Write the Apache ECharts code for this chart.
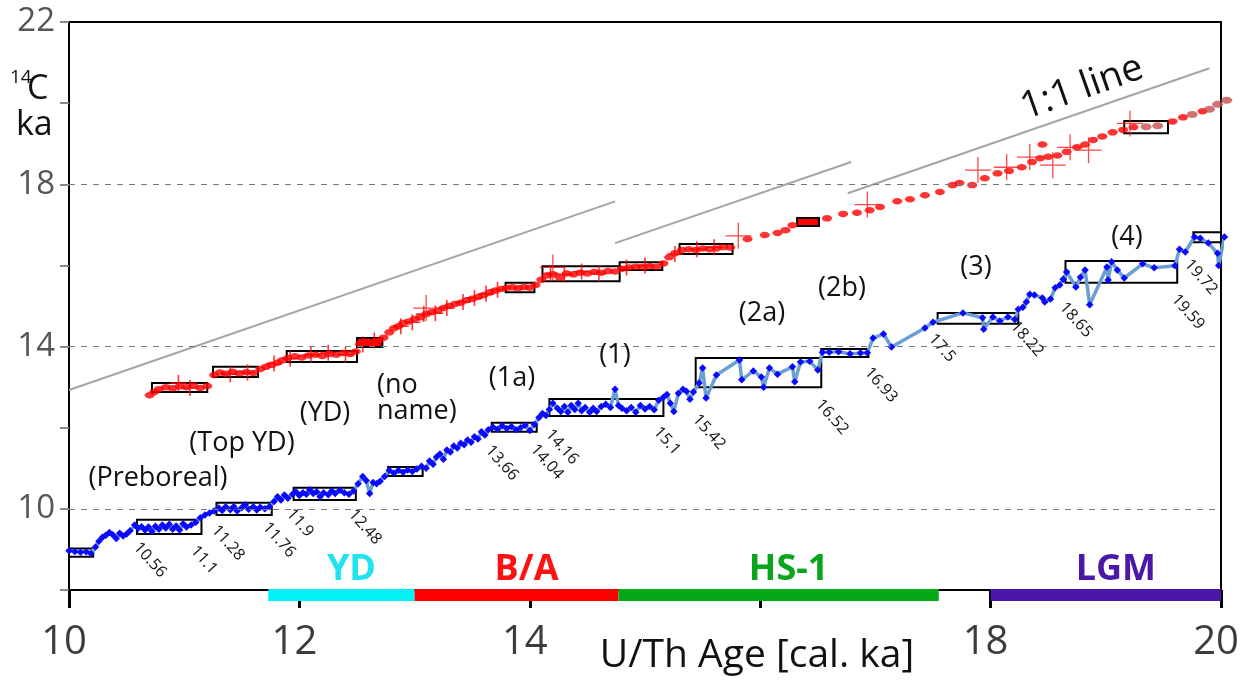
<!DOCTYPE html>
<html><head><meta charset="utf-8">
<script src="https://cdn.jsdelivr.net/npm/echarts@6/dist/echarts.min.js"></script>
<style>html,body{margin:0;padding:0;background:#fff}#c{width:1240px;height:687px}</style>
</head><body><div id="c"></div>
<script>
// ---------- DATA ----------
const xLabelValues = [10, 12, 14, 18, 20];
const yLabelValues = [10, 14, 18, 22];
const gridValues = [10, 14, 18];

const bluePoints = [
[10.00,8.97],[10.05,8.95],[10.10,8.93],[10.15,8.94],[10.19,8.90],[10.23,9.06],[10.26,9.20],[10.29,9.30],[10.32,9.35],[10.35,9.42],
[10.38,9.36],[10.41,9.27],[10.44,9.40],[10.47,9.33],[10.50,9.38],[10.53,9.46],[10.57,9.60],[10.60,9.52],[10.63,9.56],[10.66,9.48],
[10.69,9.55],[10.72,9.44],[10.75,9.57],[10.78,9.50],[10.81,9.60],[10.84,9.53],[10.87,9.62],[10.90,9.50],[10.93,9.58],[10.96,9.48],
[10.99,9.63],[11.02,9.55],[11.06,9.60],[11.10,9.67],[11.14,9.78],[11.18,9.85],[11.22,9.90],[11.26,9.95],[11.30,10.02],[11.33,9.96],
[11.36,10.05],[11.40,9.98],[11.43,10.06],[11.46,9.95],[11.50,10.03],[11.53,10.10],[11.56,9.99],[11.60,10.05],[11.63,9.97],[11.66,10.04],
[11.70,10.00],[11.74,10.06],[11.78,10.18],[11.81,10.30],[11.84,10.22],[11.87,10.34],[11.90,10.26],[11.94,10.36],[11.97,10.42],[12.00,10.33],
[12.03,10.40],[12.06,10.36],[12.09,10.47],[12.12,10.38],[12.15,10.42],[12.18,10.30],[12.21,10.40],[12.25,10.35],[12.28,10.44],[12.31,10.38],
[12.35,10.46],[12.39,10.40],[12.43,10.36],[12.47,10.44],[12.51,10.62],[12.55,10.80],[12.58,10.70],[12.61,10.38],[12.64,10.65],[12.67,10.62],
[12.70,10.68],[12.74,10.80],[12.78,10.95],[12.82,10.88],[12.86,10.95],[12.90,10.90],[12.94,10.96],[12.98,10.92],[13.02,10.98],[13.06,11.05],
[13.10,11.00],[13.13,11.18],[13.16,11.10],[13.19,11.28],[13.22,11.35],[13.25,11.22],[13.28,11.45],[13.31,11.40],[13.34,11.55],[13.37,11.50],
[13.40,11.62],[13.43,11.58],[13.46,11.70],[13.49,11.64],[13.52,11.78],[13.55,11.72],[13.58,11.90],[13.61,11.82],[13.64,11.95],[13.68,12.02],
[13.72,11.96],[13.76,12.05],[13.80,11.98],[13.84,12.03],[13.88,11.95],[13.92,12.00],[13.96,12.06],[14.00,11.93],[14.04,12.08],[14.08,12.25],
[14.11,12.35],[14.14,12.30],[14.17,12.45],[14.20,12.60],[14.24,12.48],[14.27,12.40],[14.30,12.52],[14.33,12.38],[14.36,12.55],[14.39,12.45],
[14.42,12.60],[14.45,12.42],[14.48,12.50],[14.52,12.38],[14.55,12.48],[14.58,12.40],[14.62,12.52],[14.66,12.58],[14.70,12.50],[14.74,12.95],
[14.77,12.55],[14.80,12.48],[14.84,12.42],[14.88,12.50],[14.92,12.38],[14.96,12.55],[15.00,12.46],[15.04,12.52],[15.08,12.44],[15.12,12.68],
[15.16,12.75],[15.19,12.82],[15.22,12.60],[15.25,12.40],[15.29,12.85],[15.33,12.95],[15.36,12.90],[15.39,12.70],[15.42,12.88],[15.47,13.10],
[15.50,13.47],[15.53,12.73],[15.62,13.30],[15.82,13.67],[15.84,13.18],[15.94,13.40],[16.01,13.25],[16.03,13.00],[16.08,13.47],[16.15,13.32],
[16.28,13.50],[16.30,13.13],[16.35,13.62],[16.43,13.64],[16.50,13.42],[16.54,13.86],[16.60,13.86],[16.68,13.87],[16.78,13.82],[16.87,13.84],
[16.93,13.85],[16.98,14.21],[17.07,14.31],[17.14,13.99],[17.43,14.46],[17.50,14.60],[17.76,14.83],[17.93,14.71],[17.94,14.43],[18.02,14.73],
[18.08,14.63],[18.15,14.73],[18.21,14.67],[18.24,14.92],[18.28,14.97],[18.31,15.10],[18.34,15.29],[18.38,15.27],[18.45,15.20],[18.47,15.10],
[18.52,15.17],[18.56,15.45],[18.60,15.52],[18.63,15.66],[18.66,15.84],[18.74,15.47],[18.78,15.71],[18.82,15.89],[18.86,15.03],[19.01,15.96],
[19.02,15.64],[19.05,16.09],[19.10,15.89],[19.16,15.69],[19.32,16.04],[19.42,15.94],[19.60,15.99],[19.64,16.40],[19.69,16.33],[19.77,16.70],
[19.82,16.67],[19.89,16.55],[19.97,16.30],[19.98,16.00],[20.03,16.70]
];

const redDots = [
[10.70,12.80],[10.74,12.88],[10.78,12.95],[10.84,13.00],[10.90,12.97],[10.96,13.02],[11.02,13.00],[11.08,13.04],[11.14,12.98],[11.20,13.03],
[11.26,13.30],[11.31,13.36],[11.36,13.33],[11.42,13.38],[11.48,13.34],[11.54,13.37],[11.60,13.35],[11.66,13.45],[11.71,13.50],[11.76,13.55],
[11.81,13.60],[11.85,13.66],[11.90,13.72],[11.96,13.76],[12.02,13.73],[12.08,13.78],[12.14,13.80],[12.20,13.77],[12.26,13.82],[12.32,13.80],
[12.38,13.84],[12.44,13.82],[12.49,13.88],[12.53,14.08],[12.58,14.12],[12.63,14.10],[12.68,14.14],[12.73,14.22],[12.78,14.35],[12.82,14.45],
[12.86,14.50],[12.90,14.58],[12.95,14.62],[13.00,14.68],[13.05,14.72],[13.10,14.80],[13.15,14.85],[13.20,14.88],[13.25,14.95],[13.30,15.00],
[13.35,15.05],[13.40,15.08],[13.45,15.14],[13.50,15.18],[13.55,15.22],[13.60,15.27],[13.65,15.33],[13.70,15.38],[13.75,15.42],[13.80,15.45],
[13.85,15.46],[13.90,15.44],[13.95,15.47],[14.00,15.45],[14.05,15.52],[14.10,15.65],[14.15,15.75],[14.20,15.78],[14.26,15.70],[14.32,15.80],
[14.38,15.78],[14.44,15.82],[14.50,15.80],[14.56,15.84],[14.62,15.82],[14.68,15.86],[14.74,15.85],[14.80,15.92],[14.86,15.95],[14.92,15.97],
[14.98,15.96],[15.04,15.98],[15.10,15.97],[15.16,16.05],[15.21,16.20],[15.26,16.30],[15.32,16.38],[15.38,16.40],[15.44,16.38],[15.50,16.42],
[15.56,16.40],[15.62,16.42],[15.68,16.45],[15.74,16.44],[15.89,16.65],[16.04,16.75],[16.15,16.80],[16.22,16.87],[16.28,16.99],[16.38,17.07],
[16.45,17.07],[16.58,17.16],[16.72,17.27],[16.84,17.30],[16.95,17.36],[17.04,17.44],[17.19,17.58],[17.30,17.63],[17.43,17.73],[17.56,17.81],
[17.67,17.98],[17.73,18.03],[17.84,17.98],[17.95,18.15],[18.06,18.27],[18.16,18.33],[18.27,18.42],[18.36,18.55],[18.43,18.64],[18.45,18.98],
[18.50,18.68],[18.58,18.71],[18.66,18.80],[18.75,18.91],[18.82,18.98],[18.89,19.09],[18.97,19.18],[19.06,19.28],[19.15,19.34],[19.24,19.41],
[19.58,19.55],[19.67,19.65],[19.84,19.80]
];
const redDotsLate = [
[19.35,19.42],[19.45,19.44],[19.75,19.72],[19.90,19.85],[19.97,19.97],[20.05,20.07]
];
const redCrossSmall = [
[10.95,13.10],[11.05,12.98],[11.40,13.32],[11.55,13.36],[11.78,13.58],[11.92,13.70],[12.10,13.80],[12.25,13.85],[12.40,13.80],[12.55,14.05],
[12.65,14.15],[12.88,14.50],[12.98,14.60],[13.08,14.80],[13.18,14.82],[13.28,14.95],[13.42,15.10],[13.52,15.20],[13.62,15.30],[13.72,15.40],
[14.18,15.80],[14.30,15.78],[14.45,15.85],[14.60,15.80],[14.84,15.95],[15.00,16.00],[15.26,16.28],[15.45,16.40],[15.60,16.45]
];
const redCrossLarge = [
[13.10,14.95],[14.20,15.95],[15.81,16.73],[16.93,17.50],[17.89,18.35],[18.14,18.42],[18.34,18.67],[18.54,18.47],[18.69,18.91],[18.85,18.84],[19.21,19.50]
];

// boxes: [x1, x2, y1, y2]
const blueBoxes = [
[9.83,10.21,8.82,9.02],[10.59,11.15,9.38,9.73],[11.28,11.76,9.85,10.15],[11.95,12.49,10.22,10.52],[12.77,13.07,10.81,11.03],
[13.67,14.06,11.90,12.12],[14.17,15.16,12.29,12.71],[15.44,16.53,13.00,13.72],[16.53,16.94,13.74,13.94],[17.54,18.24,14.56,14.83],
[18.65,19.62,15.57,16.11],[19.76,20.00,16.57,16.82]
];
const redBoxes = [
[10.72,11.20,12.88,13.10],[11.25,11.64,13.25,13.50],[11.89,12.50,13.62,13.89],[12.50,12.72,13.99,14.21],[13.79,14.04,15.34,15.57],
[14.11,14.78,15.61,15.98],[14.78,15.15,15.89,16.08],[15.30,15.76,16.28,16.53],[16.32,16.51,16.97,17.17],[19.16,19.54,19.26,19.56]
];
const redFilledBoxes = [3, 8];

const oneToOneSegments = [
[[10.00,12.93],[14.74,17.58]],
[[14.74,16.55],[16.79,18.55]],
[[16.76,17.78],[19.90,20.86]]
];

const periods = [
['YD',11.73,13.00],['B/A',13.00,14.77],['HS-1',14.77,17.55],['LGM',18.00,20.00]
];
const periodColors = ['#00f2f6','#ff0000','#04aa16','#4a16a8'];
const periodTextColors = ['#1fe3ee','#ff1111','#0aa51c','#4a17a6'];

const eventLabels = [
['(Preboreal)',158,478],['(Top YD)',242,443],['(YD)',325,413],['(1a)',512,378],['(1)',615,355],
['(2a)',762,313],['(2b)',842,288],['(3)',976,267],['(4)',1127,237]
];
const dateLabels = [
['10.56',150,560],['11.1',204,560],['11.28',228,543],['11.76',279,540],['11.9',300,523],['12.48',365,527],
['13.66',502,463],['14.16',562,447],['14.04',547,462],['15.1',667,441],['15.42',709,432],['16.52',832,417],
['16.93',881,385],['17.5',942,348],['18.22',1027,339],['18.65',1076,320],['19.59',1188,312],['19.72',1201,277]
];

// ---------- CHART ----------
const FONT = '"Open Sans", "Noto Sans", sans-serif';
const chart = echarts.init(document.getElementById('c'), null, {renderer:'canvas'});

function boxArea(b, filled){
  return [{xAxis:b[0], yAxis:b[2], itemStyle: filled ? {color:'#ff0000'} : undefined},{xAxis:b[1], yAxis:b[3]}];
}

const series = [];
oneToOneSegments.forEach(seg => series.push({
  type:'line', data:seg, symbol:'none', silent:true, z:1,
  lineStyle:{color:'#a5a5a5', width:2}
}));
series.push({
  type:'line', data:bluePoints, symbol:'diamond', symbolSize:7.5, showAllSymbol:true, clip:false, z:3,
  itemStyle:{color:'#0a0aff'}, lineStyle:{color:'#6b9fd3', width:3.5},
  markLine:{silent:true, symbol:'none', label:{show:false},
    lineStyle:{color:'#7a7a7a', type:[6,6], width:1},
    data: gridValues.map(v => ({yAxis:v}))},
  markArea:{silent:true, itemStyle:{color:'rgba(0,0,0,0)', borderColor:'#000', borderWidth:2},
    data: blueBoxes.map(b => boxArea(b,false))}
});
series.push({
  type:'scatter', data:redDots, symbol:'circle', symbolSize:[10,6.5], z:4, clip:false,
  itemStyle:{color:'#ff0000'},
  markArea:{silent:true, itemStyle:{color:'rgba(0,0,0,0)', borderColor:'#000', borderWidth:2},
    data: redBoxes.map((b,i) => boxArea(b, redFilledBoxes.includes(i)))}
});
series.push({
  type:'scatter', data:redDotsLate, symbol:'circle', symbolSize:[11,7], z:4, clip:false,
  itemStyle:{color:'#c45050'}
});
series.push({
  type:'scatter', data:redCrossSmall, symbol:'path://M0,9H20V11H0Z M9,0H11V20H9Z', symbolSize:16, z:4,
  itemStyle:{color:'#ff0000'}
});
series.push({
  type:'scatter', data:redCrossLarge, symbol:'path://M0,19H40V21H0Z M19,0H21V40H19Z', symbolSize:26, z:4,
  itemStyle:{color:'#ff1a1a'}
});

chart.setOption({
  animation:false,
  grid:{left:69, right:19, top:22, bottom:97, show:true, borderColor:'#000', borderWidth:2,
    containLabel:false, outerBoundsMode:'none'},
  xAxis:{type:'value', min:10, max:20, interval:2,
    axisLine:{show:true, lineStyle:{color:'#000', width:2}},
    axisTick:{show:true, length:18, lineStyle:{color:'#000', width:3}},
    axisLabel:{color:'#3c3c3c', fontSize:40, fontFamily:FONT, margin:33, verticalAlign:'top', padding:[0,10,0,0],
      formatter: v => xLabelValues.includes(v) ? String(v) : ''},
    splitLine:{show:false}},
  yAxis:{type:'value', min:8, max:22, interval:2,
    axisLine:{show:true, lineStyle:{color:'#000', width:2}},
    axisTick:{show:true, length:9, lineStyle:{color:'#8a8a8a', width:2}},
    axisLabel:{color:'#555', fontSize:33, fontFamily:FONT, margin:14,
      formatter: v => yLabelValues.includes(v) ? String(v) : ''},
    splitLine:{show:false}},
  series
});

// ---------- GRAPHIC ANNOTATIONS ----------
const g = [];
const yBottom = chart.convertToPixel({yAxisIndex:0}, 8);
periods.forEach((p,i) => {
  const x1 = chart.convertToPixel({xAxisIndex:0}, p[1]);
  const x2 = chart.convertToPixel({xAxisIndex:0}, p[2]);
  g.push({type:'rect', shape:{x:x1, y:yBottom-1, width:x2-x1, height:12}, style:{fill:periodColors[i]}, z:50});
  g.push({type:'text', x:(x1+x2)/2 + 10, y:yBottom-20, z:50,
    style:{text:p[0], fill:periodTextColors[i], font:'bold 36px '+FONT, align:'center', verticalAlign:'middle'}});
});
eventLabels.forEach(l => g.push({type:'text', x:l[1], y:l[2], z:50,
  style:{text:l[0], fill:'#111', font:'27px '+FONT, align:'center', verticalAlign:'middle'}}));
g.push({type:'text', x:377, y:398, z:50,
  style:{text:'(no\nname)', fill:'#111', font:'27px '+FONT, align:'left', verticalAlign:'middle', lineHeight:26}});
dateLabels.forEach(l => g.push({type:'text', x:l[1], y:l[2], rotation:-0.84, z:50,
  style:{text:l[0], fill:'#111', font:'16px '+FONT, align:'center', verticalAlign:'middle'}}));
g.push({type:'text', x:1082, y:88, rotation:0.34, z:50,
  style:{text:'1:1 line', fill:'#111', font:'38px '+FONT, align:'center', verticalAlign:'middle'}});
g.push({type:'text', x:757, y:656, z:50,
  style:{text:'U/Th Age [cal. ka]', fill:'#111', font:'39px '+FONT, align:'center', verticalAlign:'middle'}});
g.push({type:'text', x:10, y:78, z:50,
  style:{text:'14', fill:'#111', font:'19px '+FONT, align:'left', verticalAlign:'middle'}});
g.push({type:'text', x:27, y:89, z:50,
  style:{text:'C', fill:'#111', font:'34px '+FONT, align:'left', verticalAlign:'middle'}});
g.push({type:'text', x:16, y:125, z:50,
  style:{text:'ka', fill:'#111', font:'34px '+FONT, align:'left', verticalAlign:'middle'}});
chart.setOption({graphic:g});
</script>
</body></html>
